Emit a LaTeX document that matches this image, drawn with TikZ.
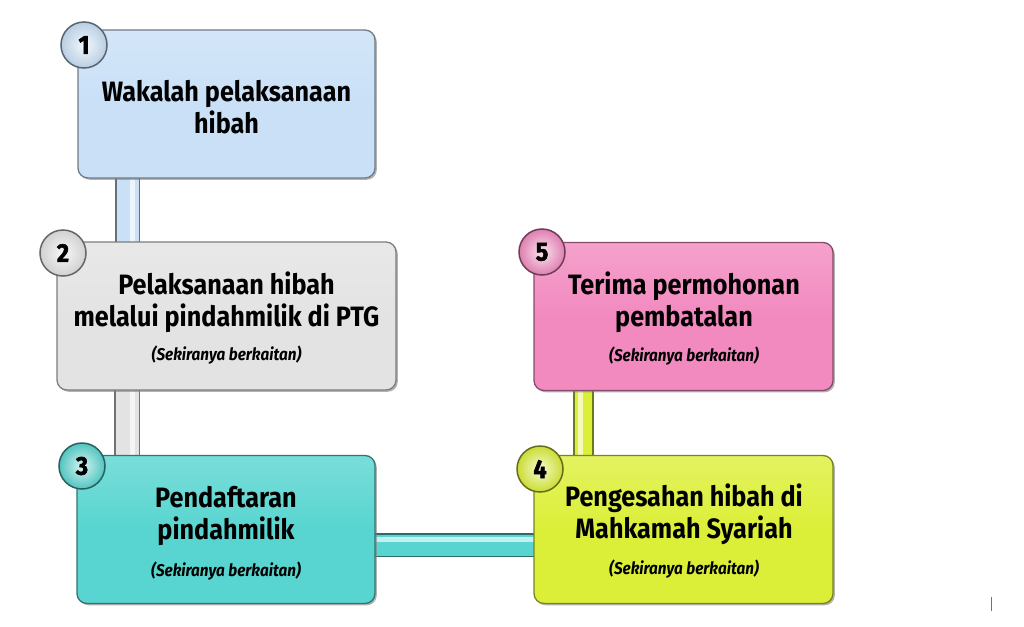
\documentclass[tikz,border=0pt]{standalone}
\usepackage{fontspec}
\setmainfont{Fira Sans}[FakeStretch=0.9]
\usetikzlibrary{shadows,backgrounds,calc}
\definecolor{cA}{HTML}{C9E0F7}
\definecolor{cB}{HTML}{E3E3E3}
\definecolor{cC}{HTML}{58D5D0}
\definecolor{cD}{HTML}{DCEF38}
\definecolor{cE}{HTML}{F28ABF}
\tikzset{
  stepbox/.style={rectangle, rounded corners=10pt, inner sep=0pt, outer sep=0pt,
    minimum height=148pt, line width=1.3pt, draw=#1!55!black,
    top color=#1!80!white, bottom color=#1, middle color=#1,
    drop shadow={shadow xshift=1.8pt, shadow yshift=-1.8pt, fill=black!50, opacity=0.6}},
  numdot/.style={circle, minimum size=46pt, inner sep=0pt, outer sep=0pt,
    line width=1.5pt, draw=#1!45!black, inner color=#1!25!white, outer color=#1!92!black,
    font=\fontsize{26}{26}\selectfont\bfseries\addfontfeatures{FakeBold=2}},
  titletext/.style={align=center, inner sep=0pt, font=\fontsize{28}{32}\selectfont\bfseries},
  subtext/.style={inner sep=0pt, font=\fontsize{17}{19}\selectfont\bfseries\itshape},
  linkedge/.style={line width=1.6pt, draw=#1!50!black, double=#1},
  linkshine/.style={line width=5pt, draw=#1!35!white},
}
\begin{document}
\begin{tikzpicture}[x=1pt,y=-1pt]
\useasboundingbox (0,0) rectangle (1024,626);
% boxes
\node[stepbox=cA, minimum width=297pt] (b1) at (226.5,104) {};
\node[stepbox=cB, minimum width=339pt] (b2) at (226.5,316) {};
\node[stepbox=cC, minimum width=298pt] (b3) at (226,529.5) {};
\node[stepbox=cD, minimum width=299pt] (b4) at (683.5,529.5) {};
\node[stepbox=cE, minimum width=299pt] (b5) at (683.5,316.5) {};
% connectors
\coordinate (k12) at (127.5,0);
\coordinate (k23) at (127,0);
\coordinate (k45) at (583.5,0);
\coordinate (k34) at (0,545);
\begin{scope}[on background layer]
\fill[white] (0,0) rectangle (1024,626);
\draw[linkedge=cA, double distance=22pt] (b1.south -| k12) -- (b2.north -| k12);
\draw[linkshine=cA] ([xshift=5pt]b1.south -| k12) -- ([xshift=5pt]b2.north -| k12);
\draw[linkedge=cB, double distance=23pt] (b2.south -| k23) -- (b3.north -| k23);
\draw[linkshine=cB] ([xshift=5pt]b2.south -| k23) -- ([xshift=5pt]b3.north -| k23);
\draw[linkedge=cC, double distance=21pt] (b3.east |- k34) -- (b4.west |- k34);
\draw[linkshine=cC] ([yshift=6pt]b3.east |- k34) -- ([yshift=6pt]b4.west |- k34);
\draw[linkedge=cD, double distance=17pt] (b4.north -| k45) -- (b5.south -| k45);
\draw[linkshine=cD] ([xshift=-3pt]b4.north -| k45) -- ([xshift=-3pt]b5.south -| k45);
\end{scope}
% number badges
\node[numdot=cA] (n1) at (84,45) {1};
\node[numdot=cB] (n2) at (63,253) {2};
\node[numdot=cC] (n3) at (82,466) {3};
\node[numdot=cD] (n4) at (540,469) {4};
\node[numdot=cE] (n5) at (542,252) {5};
% texts
\node[titletext] (t1) at (226.5,107) {Wakalah pelaksanaan\\hibah};
\node[titletext] (t2) at (226.5,302.5) {Pelaksanaan hibah\\melalui pindahmilik di PTG};
\node[subtext] (s2) at (226.5,355) {(Sekiranya berkaitan)};
\node[titletext] (t3) at (226,516) {Pendaftaran\\pindahmilik};
\node[subtext] (s3) at (226,571) {(Sekiranya berkaitan)};
\node[titletext] (t4) at (684,514) {Pengesahan hibah di\\Mahkamah Syariah};
\node[subtext] (s4) at (684,569) {(Sekiranya berkaitan)};
\node[titletext] (t5) at (684,302.5) {Terima permohonan\\pembatalan};
\node[subtext] (s5) at (684,356) {(Sekiranya berkaitan)};
% small mark
\draw[black!55, line width=0.8pt] (991,597) -- (991,611);
\end{tikzpicture}
\end{document}
